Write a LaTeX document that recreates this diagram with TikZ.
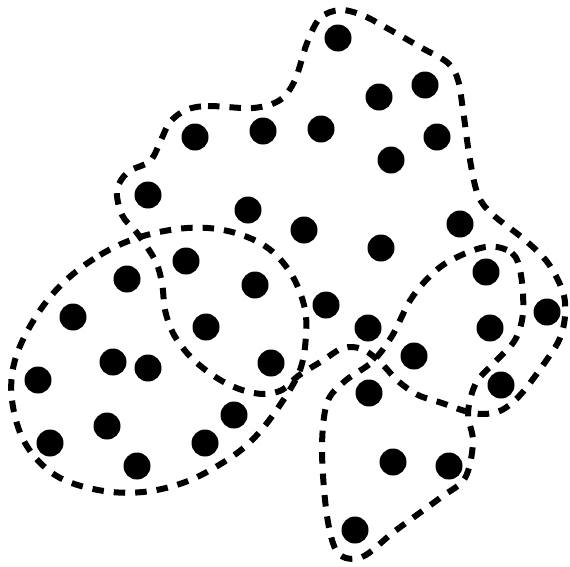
\documentclass[tikz,border=0pt]{standalone}
\begin{document}
\begin{tikzpicture}[x=1pt,y=-1pt,
  dot/.style={circle,fill=black,inner sep=0pt,minimum size=27pt},
  region/.style={draw=black,line width=6pt,dash pattern=on 11.5pt off 10pt}]
\useasboundingbox (0,0) rectangle (570,566);
% big upper blob
\draw[region] plot[smooth cycle,tension=0.55] coordinates {
 (186,110) (208,106) (253,108) (280,100) (295,80) (307,43) (320,18) (340,10)
 (362,15) (385,27) (422,48) (448,63) (458,80) (463,110) (470,160) (478,195)
 (492,214) (525,240) (548,263) (563,292) (565,316) (560,338) (548,358)
 (522,393) (502,410) (483,414) (465,411) (442,403) (418,395) (398,381)
 (380,362) (362,349) (343,348) (322,361) (298,376) (282,390) (263,394)
 (242,390) (222,381) (203,368) (187,353) (173,333) (165,310) (162,283)
 (155,260) (137,233) (122,215) (117,190) (128,172) (150,161) (161,140)
 (170,122)};
% left ellipse
\draw[region] plot[smooth cycle,tension=0.6] coordinates {
 (63,283) (100,255) (140,237) (187,228) (228,231) (265,246) (290,272)
 (304,305) (306,335) (300,370) (280,405) (256,436) (230,458) (188,481)
 (143,492) (98,490) (55,475) (25,443) (12,400) (15,360) (35,318)};
% lower shape
\draw[region] plot[smooth cycle,tension=0.55] coordinates {
 (485,247) (512,253) (521,275) (523,313) (515,340) (495,362) (476,383)
 (468,413) (473,442) (465,478) (440,498) (395,531) (362,557) (338,553)
 (327,516) (322,450) (327,403) (345,381) (372,362) (392,336) (413,296)
 (443,265)};
% dots
\foreach \n/\p in {1/{338,38},2/{379,97},3/{425,85},4/{437,137},5/{391,160},
 6/{321,129},7/{263,131},8/{195,137},9/{148,195},10/{248,210},11/{304,230},
 12/{381,248},13/{460,224},14/{486,272},15/{547,312},16/{490,328},
 17/{501,385},18/{414,356},19/{368,328},20/{326,305},21/{255,285},
 22/{186,261},23/{127,279},24/{73,317},25/{206,327},26/{113,362},
 27/{148,368},28/{38,380},29/{271,363},30/{234,415},31/{107,426},
 32/{50,443},33/{205,443},34/{137,466},35/{369,393},36/{393,462},
 37/{449,466},38/{355,530}}
  \node[dot] (d\n) at (\p) {};
\end{tikzpicture}
\end{document}
